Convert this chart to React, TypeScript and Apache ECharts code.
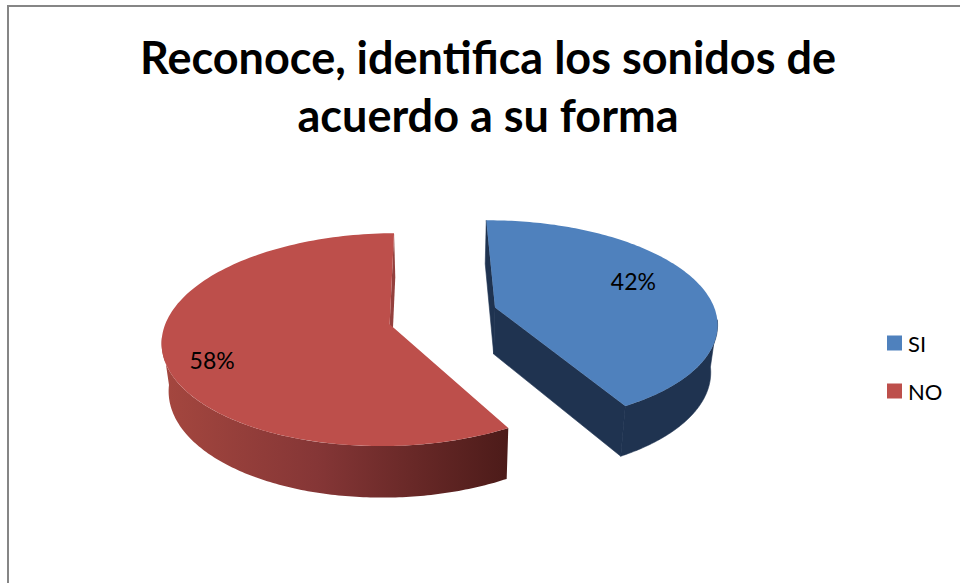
import React, { useEffect, useRef } from "react";
import * as echarts from "echarts";

const TITLE = "Reconoce, identifica los sonidos de\nacuerdo a su forma";
const categories = ["SI", "NO"];
const values = [42, 58];
const topColors = ["#4f81bd", "#bd4f4b"];
const explode = [[0.235, -0.09], [-0.24, 0.075]];
const labelPolar = [[67.5, 0.72], [246.5, 0.81]];
const START_ANGLE = -0.7;
const WALL_FROM = 97;
const WALL_TO = 263;

const CX = 443.5, CY = 316.5, RX = 222, RY = 102, PERSP = 0.143, DEPTH = 47, DEPTH_K = 25, INSET = 0.975;
const total = values.reduce((a, b) => a + b, 0);
const rad = (d: number) => (d * Math.PI) / 180;

function project(idx: number, angle: number, r: number, bottom: boolean) {
  const x = explode[idx][0] + r * Math.sin(rad(angle));
  const v = explode[idx][1] - r * Math.cos(rad(angle));
  const s = 1 / (1 - PERSP * v);
  let X = CX + RX * x * s;
  let Y = CY + RY * v * s;
  if (bottom) {
    X = CX + (X - CX) * INSET;
    Y = Y + DEPTH + DEPTH_K * (s - 1);
  }
  return [X, Y];
}

function renderSlice(idx: number) {
  return (_params: any, _api: any) => {
    const before = values.slice(0, idx).reduce((a, b) => a + b, 0);
    const a0 = START_ANGLE + (before / total) * 360;
    const a1 = a0 + (values[idx] / total) * 360;
    const steps = 140;
    const topArc: number[][] = [];
    for (let i = 0; i <= steps; i++) {
      topArc.push(project(idx, a0 + ((a1 - a0) * i) / steps, 1, false));
    }
    const w0 = Math.max(a0, WALL_FROM);
    const w1 = Math.min(a1, WALL_TO);
    const wallTop: number[][] = [];
    const wallBot: number[][] = [];
    for (let i = 0; i <= steps; i++) {
      const a = w0 + ((w1 - w0) * i) / steps;
      wallTop.push(project(idx, a, 1, false));
      wallBot.push(project(idx, a, 1, true));
    }
    const apexT = project(idx, 0, 0, false);
    const apexB = project(idx, 0, 0, true);
    const wallFill =
      idx === 0
        ? "#1f3350"
        : new echarts.graphic.LinearGradient(0, 0, 1, 0, [
            { offset: 0, color: "#a5473f" },
            { offset: 0.45, color: "#853636" },
            { offset: 1, color: "#4c1b19" },
          ]);
    const face = (pts: number[][], fill: any, stroke?: string) => ({
      type: "polygon",
      shape: { points: pts },
      style: stroke ? { fill, stroke, lineWidth: 0.6 } : { fill },
    });
    const faceAt = (a: number) => [project(idx, a, 1, false), project(idx, a, 1, true), apexB, apexT];
    const wallStroke = idx === 0 ? "#1f3350" : undefined;
    const [la, lr] = labelPolar[idx];
    const lp = project(idx, la, lr, false);
    const sideFaces =
      idx === 0
        ? [face(faceAt(a0), "#1f3350", "#1f3350"), face(faceAt(a1), "#1f3350", "#1f3350")]
        : [face(faceAt(a1), "#94403d")];
    return {
      type: "group",
      children: [
        ...sideFaces,
        face([...wallTop, ...wallBot.slice().reverse()], wallFill, wallStroke),
        face([apexT, ...topArc], topColors[idx]),
        {
          type: "text",
          x: lp[0],
          y: lp[1],
          style: {
            text: `${Math.round((values[idx] / total) * 100)}%`,
            fill: "#000",
            font: "23px Lato, Carlito, sans-serif",
            align: "center",
            verticalAlign: "middle",
          },
        },
      ],
    };
  };
}

export default function App() {
  const ref = useRef<HTMLDivElement>(null);
  useEffect(() => {
    document.body.style.margin = "0";
    const chart = echarts.init(ref.current!, undefined, { renderer: "svg" });
    chart.setOption({
      animation: false,
      backgroundColor: "#fff",
      title: {
        text: TITLE,
        left: 483,
        top: 23,
        textAlign: "center",
        textStyle: {
          fontFamily: "Lato, Carlito, sans-serif",
          fontWeight: "bold",
          fontSize: 45,
          lineHeight: 58,
          color: "#000",
        },
      },
      legend: {
        data: categories,
        orient: "vertical",
        left: 882,
        top: 327,
        icon: "rect",
        itemWidth: 15,
        itemHeight: 15,
        itemGap: 26,
        textStyle: { fontFamily: "Lato, Carlito, sans-serif", fontSize: 22, color: "#000", padding: [0, 0, 0, 1] },
      },
      graphic: [
        { type: "line", shape: { x1: 7, y1: 6, x2: 960, y2: 6 }, style: { stroke: "#868686", lineWidth: 2 } },
        { type: "line", shape: { x1: 8, y1: 5, x2: 8, y2: 583 }, style: { stroke: "#868686", lineWidth: 2 } },
      ],
      series: [1, 0].map((idx) => ({
        type: "custom",
        name: categories[idx],
        coordinateSystem: "none",
        itemStyle: { color: topColors[idx] },
        data: [[values[idx]]],
        renderItem: renderSlice(idx),
      })),
    });
    return () => chart.dispose();
  }, []);
  return <div ref={ref} style={{ width: 960, height: 583 }} />;
}
